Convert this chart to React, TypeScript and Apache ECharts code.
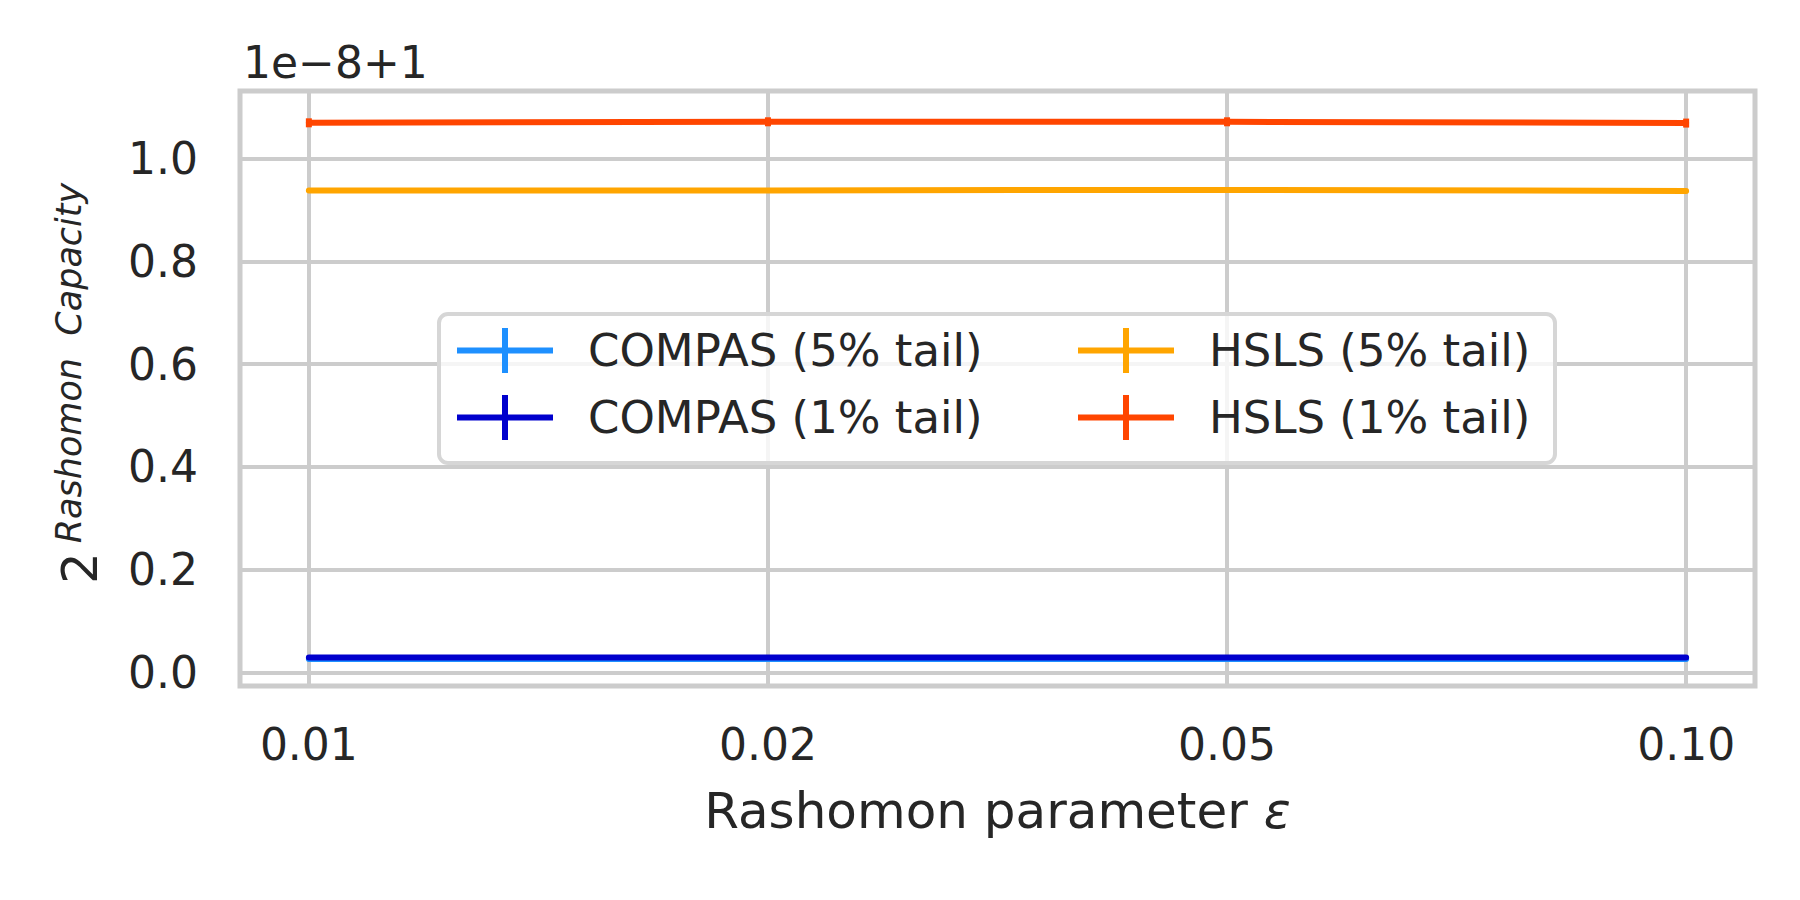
import React, { useEffect, useRef } from 'react';
import * as echarts from 'echarts';

// ---- data ----
const epsLabels = ['0.01', '0.02', '0.05', '0.10'];
const seriesNames = ['COMPAS (5% tail)', 'COMPAS (1% tail)', 'HSLS (5% tail)', 'HSLS (1% tail)'];
const seriesColors = ['#1e90ff', '#0000cd', '#ffa500', '#ff4500'];
// values shown in units of 1e-8, offset +1
const compas5 = [0.026, 0.026, 0.026, 0.026];
const compas1 = [0.029, 0.029, 0.029, 0.029];
const hsls5 = [0.938, 0.938, 0.939, 0.937];
const hsls1 = [1.0695, 1.0715, 1.0715, 1.069];
const yTickValues = [0, 0.2, 0.4, 0.6, 0.8, 1.0];
const offsetText = '1e\u22128+1';
const xAxisTitle = 'Rashomon parameter {i|\u03b5}';
const yLabelBase = '2';
const yLabelSup = 'Rashomon\u00a0\u00a0Capacity';

const FONT = 'DejaVu Sans';
const TEXT = '#262626';
const GRIDC = '#cccccc';

const PLUS_ICON = 'path://M0,19.5H96V25.5H0Z M45,0H51V45H45Z';

export default function App() {
  const ref = useRef<HTMLDivElement>(null);
  useEffect(() => {
    if (!ref.current) return;
    const chart = echarts.init(ref.current, null, { renderer: 'svg' });
    const allValues = [compas5, compas1, hsls5, hsls1];
    const legendCommon = {
      orient: 'vertical',
      top: 328,
      itemWidth: 96,
      itemHeight: 45,
      itemGap: 22,
      padding: 0,
      icon: PLUS_ICON,
      itemStyle: { borderWidth: 0 },
      textStyle: { fontSize: 45, color: TEXT, fontFamily: FONT, padding: [0, 0, 0, 30] },
      selectedMode: false,
      z: 6,
    };
    const option: any = {
      animation: false,
      backgroundColor: '#ffffff',
      textStyle: { fontFamily: FONT },
      grid: {
        left: 240,
        top: 91,
        width: 1515,
        height: 595,
        show: true,
        borderColor: GRIDC,
        borderWidth: 5,
        backgroundColor: 'transparent',
      },
      xAxis: {
        type: 'value',
        min: -0.15,
        max: 3.15,
        splitNumber: 3,
        axisLine: { show: false },
        axisTick: { show: false },
        splitLine: { show: true, lineStyle: { color: GRIDC, width: 4 } },
        axisLabel: {
          color: TEXT,
          fontSize: 44,
          fontFamily: FONT,
          margin: 36,
          showMinLabel: true,
          showMaxLabel: true,
          formatter: (v: number) => {
            const i = Math.round(v);
            return Math.abs(v - i) < 1e-6 && epsLabels[i] !== undefined ? epsLabels[i] : '';
          },
        },
        name: xAxisTitle,
        nameLocation: 'middle',
        nameGap: 100,
        nameTextStyle: {
          fontSize: 50,
          color: TEXT,
          fontFamily: FONT,
          rich: { i: { fontSize: 50, fontStyle: 'italic', color: TEXT, fontFamily: FONT } },
        },
      },
      yAxis: {
        type: 'value',
        min: -0.0263,
        max: 1.1314,
        splitNumber: 5,
        axisLine: { show: false },
        axisTick: { show: false },
        splitLine: { show: true, lineStyle: { color: GRIDC, width: 4 } },
        axisLabel: {
          color: TEXT,
          fontSize: 44,
          fontFamily: FONT,
          margin: 42,
          formatter: (v: number) => {
            const hit = yTickValues.find((t) => Math.abs(t - v) < 1e-6);
            return hit !== undefined ? hit.toFixed(1) : '';
          },
        },
      },
      legend: [
        { ...legendCommon, left: 457, data: [seriesNames[0], seriesNames[1]] },
        { ...legendCommon, left: 1078, data: [seriesNames[2], seriesNames[3]] },
      ],
      graphic: [
        {
          type: 'rect',
          z: 5,
          silent: true,
          shape: { x: 439, y: 314, width: 1116, height: 149, r: 9 },
          style: { fill: 'rgba(255,255,255,0.8)', stroke: '#d6d6d6', lineWidth: 4 },
        },
        {
          type: 'text',
          x: 243,
          y: 62,
          silent: true,
          style: { text: offsetText, fontSize: 44, fill: TEXT, fontFamily: FONT, align: 'left', verticalAlign: 'middle' },
        },
        {
          type: 'text',
          x: 80,
          y: 568,
          rotation: Math.PI / 2,
          silent: true,
          style: { text: yLabelBase, fontSize: 50, fill: TEXT, fontFamily: FONT, align: 'center', verticalAlign: 'middle' },
        },
        {
          type: 'text',
          x: 69,
          y: 363,
          rotation: Math.PI / 2,
          silent: true,
          style: {
            text: yLabelSup,
            fontSize: 35,
            fontStyle: 'italic',
            fill: TEXT,
            fontFamily: FONT,
            align: 'center',
            verticalAlign: 'middle',
          },
        },
      ],
      series: seriesNames.map((name, k) => ({
        name,
        type: 'line',
        data: allValues[k].map((v, i) => [i, v]),
        symbol: k === 3 ? 'rect' : 'none',
        symbolSize: [6, 9],
        showSymbol: k === 3,
        silent: true,
        lineStyle: { color: seriesColors[k], width: 6, cap: 'round' },
        itemStyle: { color: seriesColors[k], borderWidth: 0 },
        emphasis: { disabled: true },
        z: 2 + k,
      })),
    };
    chart.setOption(option);
    return () => chart.dispose();
  }, []);
  return (
    <div
      ref={ref}
      style={{ position: 'absolute', left: 0, top: 0, width: '1800px', height: '900px' }}
    />
  );
}
